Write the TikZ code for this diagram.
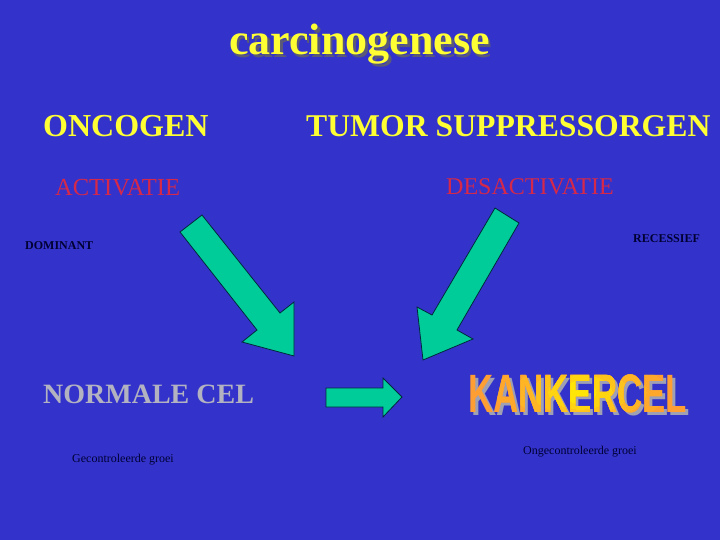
\documentclass[tikz,border=0pt]{standalone}
\usepackage{fontspec}
\setmainfont{Liberation Serif}
\newfontfamily\kfont{Liberation Sans}
\definecolor{bgblue}{RGB}{51,51,204}
\definecolor{tyellow}{RGB}{255,255,51}
\definecolor{tred}{RGB}{214,40,72}
\definecolor{tgray}{RGB}{178,178,192}
\definecolor{tdark}{RGB}{0,0,51}
\definecolor{agreen}{RGB}{0,204,153}
\definecolor{aline}{RGB}{0,40,60}
\definecolor{shadowc}{RGB}{90,90,120}
\definecolor{korange}{RGB}{255,158,50}
\definecolor{kyellow}{RGB}{255,240,0}
\definecolor{kshadow}{RGB}{160,160,180}
\newcommand{\kword}{{\kfont\bfseries\fontsize{54}{60}\selectfont\scalebox{0.645}[1]{KANKERCEL}}}
\begin{document}
\begin{tikzpicture}[x=1pt,y=-1pt,
  txt/.style={inner sep=0pt,anchor=base west},
  greenarrow/.style={fill=agreen,draw=aline,line width=0.8pt,line join=miter}]
\useasboundingbox (0,0) rectangle (720,540);
\fill[bgblue] (0,0) rectangle (720,540);
% title with shadow
\node[txt,anchor=base,text=shadowc,font=\bfseries\fontsize{44}{50}\selectfont] (titleshadow) at (362,57.5) {carcinogenese};
\node[txt,anchor=base,text=tyellow,font=\bfseries\fontsize{44}{50}\selectfont] (title) at (359.5,55) {carcinogenese};
% headings
\node[txt,text=tyellow,font=\bfseries\fontsize{32}{38}\selectfont] (onco) at (43,137) {ONCOGEN};
\node[txt,text=tyellow,font=\bfseries\fontsize{31.7}{38}\selectfont] (tsg) at (306,137) {TUMOR SUPPRESSORGEN};
\node[txt,text=tred,font=\fontsize{24.5}{28}\selectfont] (act) at (55,196) {ACTIVATIE};
\node[txt,text=tred,font=\fontsize{24}{28}\selectfont] (desact) at (446,195) {DESACTIVATIE};
\node[txt,text=tdark,font=\bfseries\fontsize{12}{14}\selectfont] (dom) at (25,249) {DOMINANT};
\node[txt,text=tdark,font=\bfseries\fontsize{12}{14}\selectfont] (rec) at (633,242) {RECESSIEF};
\node[txt,text=tgray,font=\bfseries\fontsize{28}{32}\selectfont] (normal) at (43,403) {NORMALE CEL};
\node[txt,text=tdark,font=\fontsize{12}{14}\selectfont] (gec) at (72,462) {Gecontroleerde groei};
\node[txt,text=tdark,font=\fontsize{12}{14}\selectfont] (ongec) at (523,454) {Ongecontroleerde groei};
% KANKERCEL word art
\node[txt,text=kshadow] (kshad) at (471,415) {\kword};
\node[txt,text=korange] (kank) at (468,412) {\kword};
\foreach \r/\c in {85/12,66/28,48/46,32/66,16/88}{
  \begin{scope}
    \clip (580,392) ellipse [x radius=\r, y radius=0.35*\r+6];
    \node[txt,text=kyellow!\c!korange] at (468,412) {\kword};
  \end{scope}
}
% arrows
\draw[greenarrow] (202,215) -- (280,313) -- (294,302) -- (294,356) -- (242,342) -- (257,330) -- (180,232) -- cycle;
\draw[greenarrow] (495,208) -- (519,223) -- (457,330) -- (473,339) -- (423,360) -- (417,307) -- (432,315) -- cycle;
\draw[greenarrow] (326,388) -- (383,388) -- (383,378) -- (402,397) -- (383,417) -- (383,407) -- (326,407) -- cycle;
\end{tikzpicture}
\end{document}
